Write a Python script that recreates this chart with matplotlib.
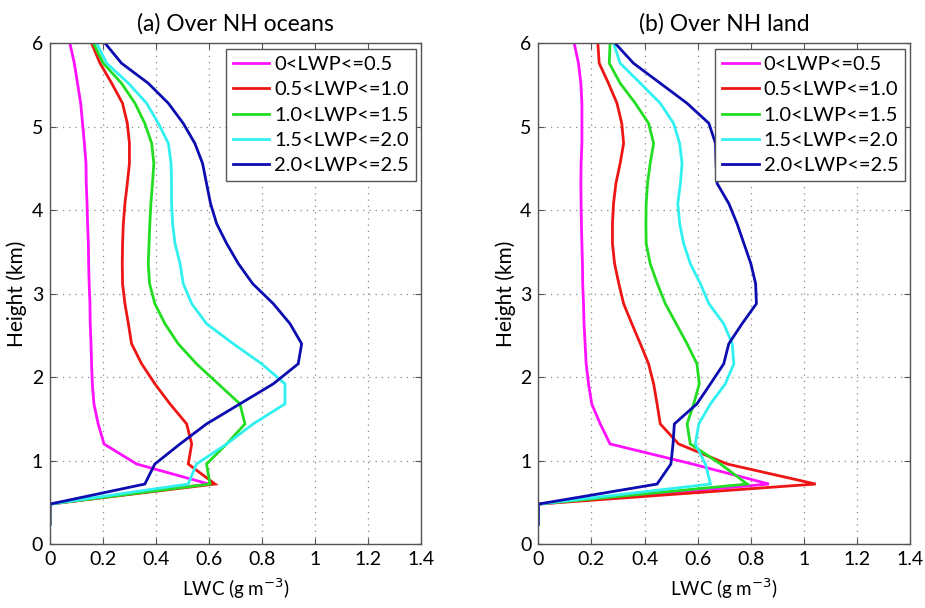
import matplotlib
matplotlib.use("Agg")
import matplotlib.pyplot as plt
import numpy as np

plt.rcParams['font.family'] = ['Lato', 'DejaVu Sans']

# Height levels (km), CloudSat 240 m bins
heights = [0.24, 0.48, 0.72, 0.96, 1.20, 1.44, 1.68, 1.92, 2.16, 2.40, 2.64, 2.88,
           3.12, 3.36, 3.60, 3.84, 4.08, 4.32, 4.56, 4.80, 5.04, 5.28, 5.52, 5.76, 6.00]

labels = ['0<LWP<=0.5', '0.5<LWP<=1.0', '1.0<LWP<=1.5', '1.5<LWP<=2.0', '2.0<LWP<=2.5']
colors = ['#ff10ff', '#ee1515', '#22dd22', '#30f0f0', '#0c0cb0']

# (a) Over NH oceans : LWC (g m-3) at each height level
ocean_lwp1 = [0, 0, 0.600, 0.327, 0.204, 0.182, 0.166, 0.160, 0.157, 0.155, 0.152, 0.151,
              0.148, 0.146, 0.145, 0.142, 0.140, 0.137, 0.136, 0.130, 0.123, 0.116, 0.104, 0.092, 0.075]
ocean_lwp2 = [0, 0, 0.623, 0.522, 0.535, 0.516, 0.453, 0.396, 0.346, 0.308, 0.296, 0.283,
              0.274, 0.273, 0.274, 0.277, 0.283, 0.292, 0.300, 0.300, 0.292, 0.274, 0.233, 0.189, 0.157]
ocean_lwp3 = [0, 0, 0.604, 0.591, 0.667, 0.736, 0.717, 0.635, 0.553, 0.484, 0.434, 0.396,
              0.376, 0.371, 0.374, 0.377, 0.381, 0.387, 0.392, 0.384, 0.358, 0.321, 0.270, 0.201, 0.164]
ocean_lwp4 = [0, 0, 0.522, 0.553, 0.667, 0.767, 0.887, 0.887, 0.799, 0.692, 0.591, 0.535,
              0.503, 0.491, 0.472, 0.463, 0.459, 0.459, 0.457, 0.447, 0.409, 0.365, 0.296, 0.214, 0.176]
ocean_lwp5 = [0, 0, 0.358, 0.396, 0.491, 0.591, 0.717, 0.843, 0.937, 0.950, 0.906, 0.843,
              0.765, 0.711, 0.667, 0.629, 0.606, 0.591, 0.576, 0.547, 0.503, 0.447, 0.371, 0.270, 0.208]

# (b) Over NH land
land_lwp1 = [0, 0, 0.868, 0.580, 0.270, 0.233, 0.201, 0.189, 0.180, 0.176, 0.172, 0.170,
             0.167, 0.166, 0.164, 0.162, 0.161, 0.160, 0.161, 0.164, 0.164, 0.164, 0.160, 0.151, 0.135]
land_lwp2 = [0, 0, 1.044, 0.711, 0.528, 0.459, 0.447, 0.434, 0.415, 0.384, 0.352, 0.321,
             0.303, 0.287, 0.279, 0.279, 0.283, 0.292, 0.308, 0.321, 0.314, 0.296, 0.264, 0.229, 0.224]
land_lwp3 = [0, 0, 0.786, 0.686, 0.572, 0.560, 0.585, 0.606, 0.597, 0.560, 0.519, 0.478,
             0.448, 0.421, 0.406, 0.405, 0.406, 0.411, 0.421, 0.434, 0.415, 0.365, 0.308, 0.267, 0.270]
land_lwp4 = [0, 0, 0.648, 0.629, 0.591, 0.604, 0.648, 0.704, 0.736, 0.730, 0.698, 0.642,
             0.610, 0.572, 0.547, 0.532, 0.525, 0.535, 0.541, 0.532, 0.509, 0.459, 0.384, 0.308, 0.283]
land_lwp5 = [0, 0, 0.447, 0.499, 0.507, 0.512, 0.597, 0.648, 0.698, 0.717, 0.767, 0.821,
             0.818, 0.800, 0.774, 0.748, 0.717, 0.673, 0.669, 0.667, 0.642, 0.560, 0.459, 0.358, 0.289]

panels = [
    ('(a) Over NH oceans', [ocean_lwp1, ocean_lwp2, ocean_lwp3, ocean_lwp4, ocean_lwp5]),
    ('(b) Over NH land', [land_lwp1, land_lwp2, land_lwp3, land_lwp4, land_lwp5]),
]

xticks = [0, 0.2, 0.4, 0.6, 0.8, 1.0, 1.2, 1.4]
xticklabels = ['0', '0.2', '0.4', '0.6', '0.8', '1', '1.2', '1.4']
yticks = [0, 1, 2, 3, 4, 5, 6]

fig = plt.figure(figsize=(9.25, 6.08), dpi=100)
axes_pos = [[0.054, 0.105, 0.401, 0.824], [0.582, 0.105, 0.402, 0.824]]

spine_col = '#555555'
for pos, (title, series) in zip(axes_pos, panels):
    ax = fig.add_axes(pos)
    for vals, lab, col in zip(series, labels, colors):
        ax.plot(vals, heights, color=col, lw=2.0, label=lab, solid_joinstyle='miter')
    ax.set_xlim(0, 1.4)
    ax.set_ylim(0, 6)
    ax.set_xticks(xticks)
    ax.set_xticklabels(xticklabels)
    ax.set_yticks(yticks)
    ax.grid(True, linestyle=(0, (1, 4)), color='#888888', linewidth=0.9)
    ax.tick_params(direction='in', top=True, right=True, length=4, width=0.8,
                   color=spine_col, labelsize=14, pad=5)
    for s in ax.spines.values():
        s.set_color(spine_col)
        s.set_linewidth(1.0)
    ax.set_title(title, fontsize=16.5, pad=9)
    ax.set_xlabel('LWC (g m$^{-3}$)', fontsize=13.5, labelpad=6)
    ax.set_ylabel('Height (km)', fontsize=15, labelpad=3)
    leg = ax.legend(loc='upper right', bbox_to_anchor=(0.987, 0.988), borderaxespad=0,
                    fontsize=14.5, frameon=True, fancybox=False, framealpha=1,
                    handlelength=1.8, handletextpad=0.25, labelspacing=0.4,
                    borderpad=0.35)
    leg.get_frame().set_edgecolor(spine_col)
    leg.get_frame().set_linewidth(1.0)

fig.savefig('out.png', dpi=100)
